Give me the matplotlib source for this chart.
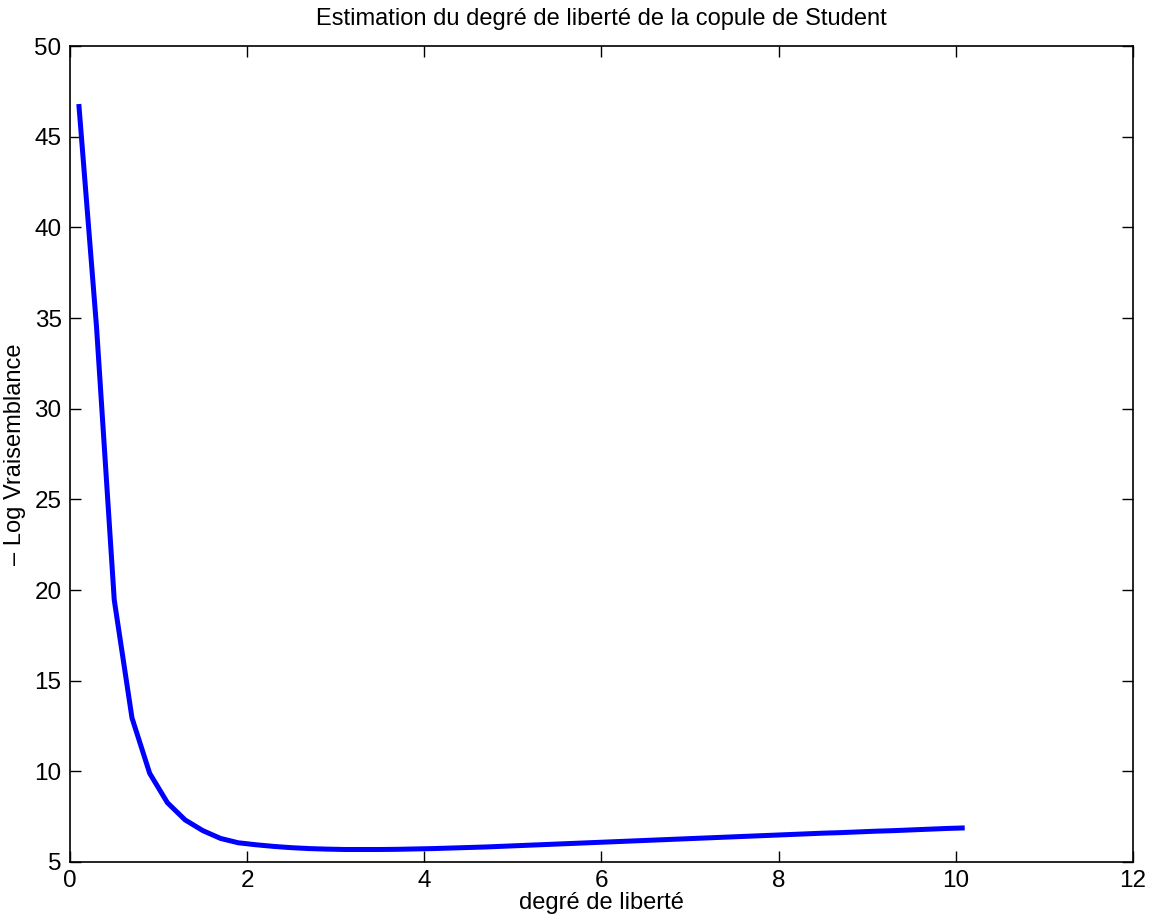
import matplotlib
matplotlib.use("Agg")
import matplotlib.pyplot as plt
import numpy as np

plt.rcParams['font.family'] = ['Liberation Sans', 'DejaVu Sans']

# degres de liberte testes et -log vraisemblance correspondante
nu = [0.1, 0.3, 0.5, 0.7, 0.9, 1.1, 1.3, 1.5, 1.7, 1.9,
      2.1, 2.3, 2.5, 2.7, 2.9, 3.1, 3.3, 3.5, 3.7, 3.9,
      4.1, 4.3, 4.5, 4.7, 4.9, 5.1, 5.3, 5.5, 5.7, 5.9,
      6.1, 6.3, 6.5, 6.7, 6.9, 7.1, 7.3, 7.5, 7.7, 7.9,
      8.1, 8.3, 8.5, 8.7, 8.9, 9.1, 9.3, 9.5, 9.7, 9.9, 10.1]
neg_loglik = [46.8, 34.5, 19.45, 12.95, 9.89, 8.27, 7.32, 6.73, 6.30, 6.06,
              5.95, 5.86, 5.79, 5.74, 5.71, 5.69, 5.69, 5.69, 5.70, 5.72,
              5.74, 5.77, 5.80, 5.83, 5.87, 5.91, 5.95, 5.99, 6.03, 6.07,
              6.11, 6.15, 6.19, 6.23, 6.27, 6.31, 6.35, 6.39, 6.43, 6.47,
              6.51, 6.55, 6.59, 6.62, 6.66, 6.70, 6.73, 6.77, 6.81, 6.85, 6.88]

fig = plt.figure(figsize=(11.64, 9.24), dpi=100)
ax = fig.add_axes([0.0601, 0.0671, 0.9133, 0.8831])

ax.plot(nu, neg_loglik, color='#0000ff', linewidth=3.6, solid_capstyle='butt')

ax.set_xlim(0, 12)
ax.set_ylim(5, 50)
ax.set_xticks(np.arange(0, 13, 2))
ax.set_yticks(np.arange(5, 51, 5))
ax.tick_params(direction='in', length=8, width=1, top=True, right=True,
               labelsize=17.5, pad=6)
for s in ax.spines.values():
    s.set_linewidth(1.2)

ax.set_title("Estimation du degré de liberté de la copule de Student",
             fontsize=17, pad=15)
ax.set_xlabel("degré de liberté", fontsize=17, labelpad=0)
ax.set_ylabel("– Log Vraisemblance", fontsize=17, labelpad=6)

fig.savefig("out.png", dpi=100)
